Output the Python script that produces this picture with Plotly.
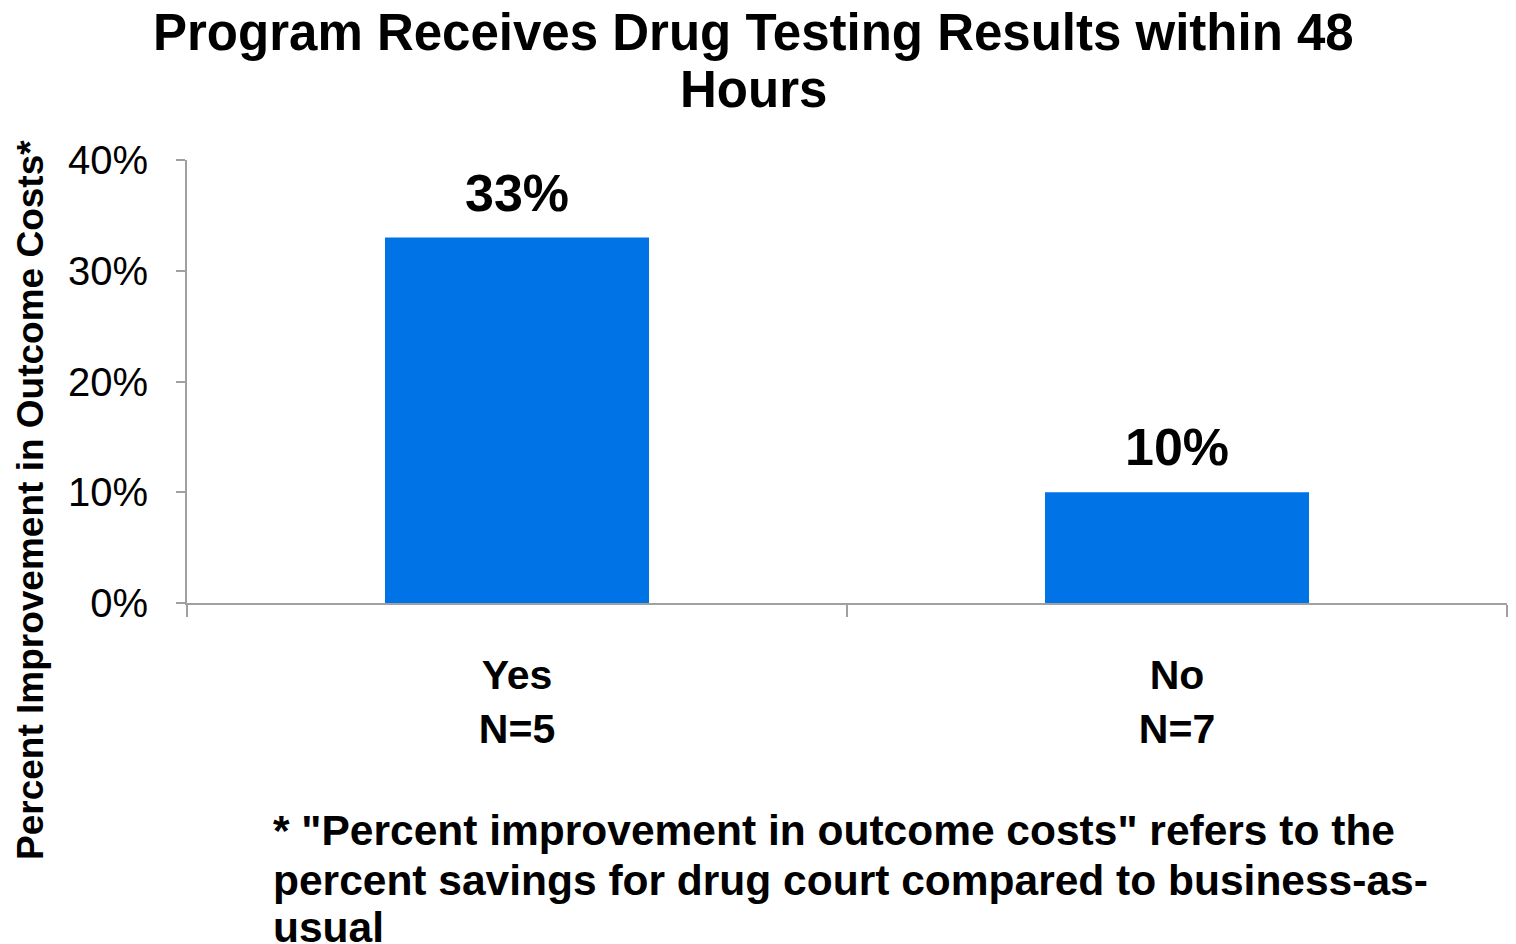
import plotly.graph_objects as go

categories = ["Yes", "No"]
n_labels = ["N=5", "N=7"]
values = [0.33, 0.10]
value_labels = ["33%", "10%"]
y_ticks = [0, 0.1, 0.2, 0.3, 0.4]
y_tick_labels = ["0%", "10%", "20%", "30%", "40%"]
title_lines = ["Program Receives Drug Testing Results within 48", "Hours"]
y_title = "Percent Improvement in Outcome Costs*"
footnote_lines = [
    '* "Percent improvement in outcome costs" refers to the',
    "percent savings for drug court compared to business-as-",
    "usual",
]

FONT = "Liberation Sans, Arial, sans-serif"
AXIS_COLOR = "#a0a0a0"

fig = go.Figure()
fig.add_trace(go.Bar(
    x=categories, y=values, marker=dict(color="#0073E6", line=dict(width=0)),
    hoverinfo="skip",
))

ticktext = [f"<b>{c}</b><br><b>{n}</b>" for c, n in zip(categories, n_labels)]

fig.update_layout(
    width=1516, height=944,
    margin=dict(l=187, r=9, t=160, b=341),
    paper_bgcolor="white", plot_bgcolor="white",
    showlegend=False, bargap=0.6,
    font=dict(family=FONT, color="black"),
    xaxis=dict(
        type="category", tickvals=categories, ticktext=ticktext,
        tickson="boundaries", ticks="outside", ticklen=12, tickwidth=2,
        tickcolor=AXIS_COLOR, showline=True, linecolor=AXIS_COLOR, linewidth=2,
        showgrid=False, tickfont=dict(size=41, family=FONT, color="black"),
        ticklabelstandoff=35,
    ),
    yaxis=dict(
        range=[0, 0.4], tickvals=y_ticks, ticktext=y_tick_labels,
        ticks="outside", ticklen=9, tickwidth=2, tickcolor=AXIS_COLOR,
        showline=True, linecolor=AXIS_COLOR, linewidth=2, showgrid=False,
        zeroline=False, tickfont=dict(size=40, family=FONT, color="black"),
        ticklabelstandoff=20,
    ),
)

annotations = []
for c, v, lab in zip(categories, values, value_labels):
    annotations.append(dict(
        x=c, y=v, xref="x", yref="y", text=f"<b>{lab}</b>", showarrow=False,
        xanchor="center", yanchor="bottom", yshift=14,
        font=dict(size=52, family=FONT, color="black"),
    ))

def py(pixel_y):
    return (603 - pixel_y) / 443

def px(pixel_x):
    return (pixel_x - 187) / 1320

for line, yc in zip(title_lines, [32, 90]):
    annotations.append(dict(
        x=px(753), y=py(yc), xref="paper", yref="paper", text=f"<b>{line}</b>",
        showarrow=False, xanchor="center", yanchor="middle",
        font=dict(size=51, family=FONT, color="black"),
    ))

for line, yc in zip(footnote_lines, [830, 880, 927]):
    annotations.append(dict(
        x=px(271), y=py(yc), xref="paper", yref="paper", text=f"<b>{line}</b>",
        showarrow=False, xanchor="left", yanchor="middle",
        font=dict(size=42.5, family=FONT, color="black"),
    ))

annotations.append(dict(
    x=px(30), y=py(500), xref="paper", yref="paper", text=f"<b>{y_title}</b>",
    showarrow=False, xanchor="center", yanchor="middle", textangle=-90,
    font=dict(size=37, family=FONT, color="black"),
))

fig.update_layout(annotations=annotations)
fig.write_html(
    "out.html",
    config={"displayModeBar": False},
    post_script="document.body.style.margin='0';document.body.style.overflow='hidden';",
)
